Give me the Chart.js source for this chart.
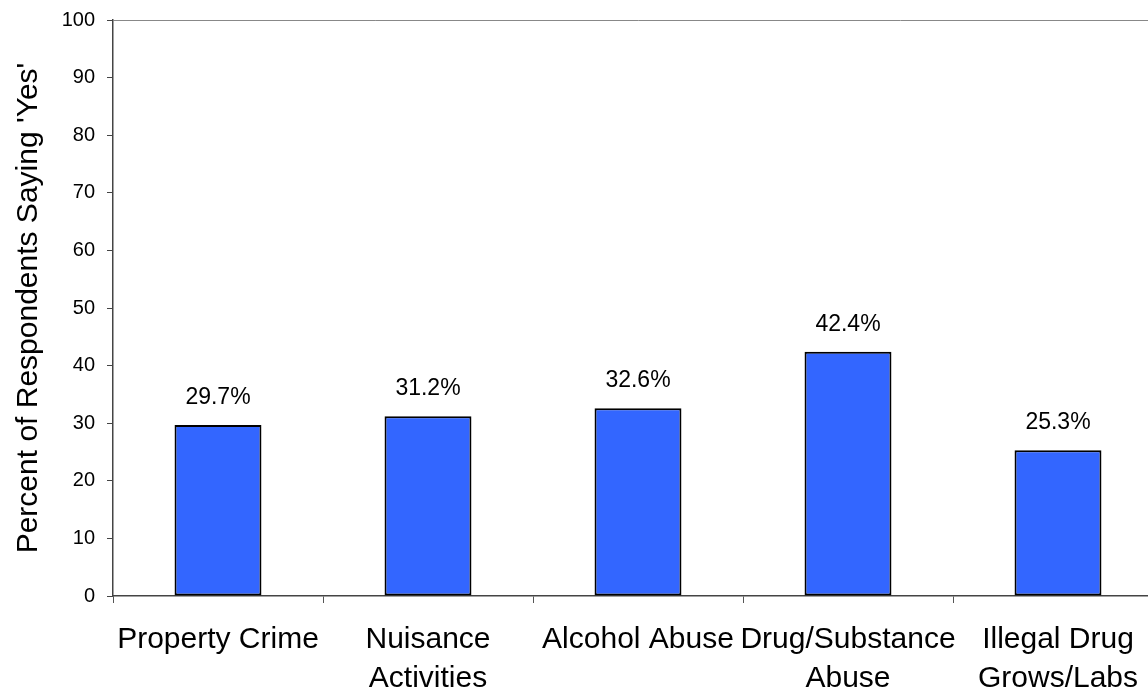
<!DOCTYPE html>
<html>
<head>
<meta charset="utf-8">
<script src="https://cdn.jsdelivr.net/npm/chart.js@4"></script>
<style>
  html, body { margin: 0; padding: 0; background: #fff; overflow: hidden; }
  #wrap { width: 1165px; height: 689px; }
</style>
</head>
<body>
<div id="wrap"><canvas id="chart"></canvas></div>
<script>
// Data
const categories = [
  'Property Crime',
  ['Nuisance', 'Activities'],
  'Alcohol Abuse',
  ['Drug/Substance', 'Abuse'],
  ['Illegal Drug', 'Grows/Labs']
];
const percentYes = [29.7, 31.2, 32.6, 42.4, 25.3];
const yTicks = [0, 10, 20, 30, 40, 50, 60, 70, 80, 90, 100];

const FONT = '"Liberation Sans", Arial, sans-serif';

// draws the "29.7%" labels above each bar
const valueLabels = {
  id: 'valueLabels',
  afterDatasetsDraw(chart) {
    const c = chart.ctx;
    const meta = chart.getDatasetMeta(0);
    c.save();
    c.font = '23px ' + FONT;
    c.fillStyle = '#000';
    c.textAlign = 'center';
    c.textBaseline = 'alphabetic';
    meta.data.forEach((bar, i) => {
      c.fillText(percentYes[i].toFixed(1) + '%', bar.x, bar.y - 21);
    });
    c.restore();
  }
};

let ctx = document.getElementById('chart').getContext('2d');
let myChart = new Chart(ctx, {
  type: 'bar',
  data: {
    labels: categories,
    datasets: [{
      data: percentYes,
      backgroundColor: '#3366FF',
      borderColor: '#000',
      borderWidth: 2,
      borderSkipped: false,
      categoryPercentage: 0.414,
      barPercentage: 1
    }]
  },
  options: {
    responsive: true,
    maintainAspectRatio: false,
    animation: false,
    layout: { padding: { top: 20, left: 0, right: 2, bottom: 0 } },
    plugins: {
      legend: { display: false },
      tooltip: { enabled: false }
    },
    scales: {
      x: {
        grid: {
          offset: true,
          drawOnChartArea: false,
          tickLength: 7,
          tickColor: '#555'
        },
        border: { color: '#444', width: 1.5 },
        ticks: {
          color: '#000',
          font: { family: FONT, size: 30, lineHeight: 1.3 },
          maxRotation: 0,
          autoSkip: false,
          padding: 17
        },
        afterFit(scale) { scale.height = 93; }
      },
      y: {
        min: 0,
        max: 100,
        afterBuildTicks(scale) { scale.ticks = yTicks.map(v => ({ value: v })); },
        grid: {
          drawOnChartArea: true,
          color: c => (c.tick && c.tick.value === 100) ? '#888' : 'rgba(0,0,0,0)',
          tickColor: '#444',
          tickLength: 6
        },
        border: { color: '#444', width: 1.5 },
        ticks: {
          color: '#000',
          font: { family: FONT, size: 20 },
          padding: 12
        },
        title: {
          display: true,
          text: "Percent of Respondents Saying 'Yes'",
          color: '#000',
          font: { family: FONT, size: 30 },
          padding: { top: 11, bottom: 0 }
        },
        afterFit(scale) {
          scale.width = 113;
          scale.paddingTop = 0;
          scale.paddingBottom = 0;
        }
      }
    }
  },
  plugins: [valueLabels]
});
</script>
</body>
</html>
